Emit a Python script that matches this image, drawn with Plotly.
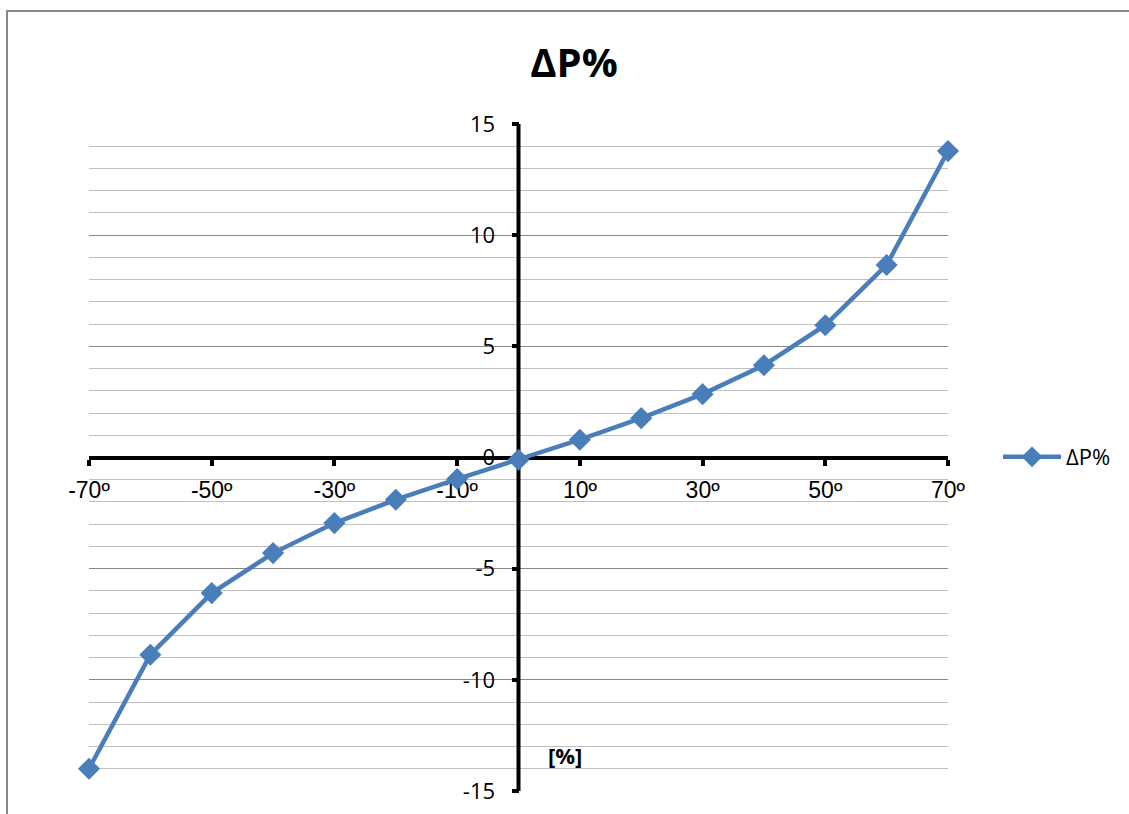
import plotly.graph_objects as go

angles = [-70, -60, -50, -40, -30, -20, -10, 0, 10, 20, 30, 40, 50, 60, 70]
dp_values = [-14.0, -8.87, -6.1, -4.3, -2.95, -1.9, -0.97, -0.1, 0.8, 1.77, 2.85, 4.15, 5.95, 8.66, 13.78]
x_tickvals = [-70, -50, -30, -10, 10, 30, 50, 70]
x_ticktext = ["-70º", "-50º", "-30º", "-10º", "10º", "30º", "50º", "70º"]
y_tickvals = [-15, -10, -5, 0, 5, 10, 15]
y_ticktext = ["-15", "-10", "-5", "0", "5", "10", "15"]
series_name = "ΔP%"
title_text = "ΔP%"
unit_label = "[%]"

W, H = 1129, 814
L, R, T, B = 89, 948, 124, 791

blue = "#4A7EBB"
font_family = "'Open Sans', Lato, sans-serif"

fig = go.Figure()
fig.add_trace(go.Scatter(
    x=angles, y=dp_values, mode="lines+markers", name=series_name,
    line=dict(color=blue, width=4.5),
    marker=dict(symbol="diamond", size=17, color=blue),
    cliponaxis=False, showlegend=True,
))

pw = R - L
ph = B - T

def px_to_paper_x(px):
    return (px - L) / pw

def px_to_paper_y(py):
    return (B - py) / ph

fig.update_layout(
    width=W, height=H,
    margin=dict(l=L, r=W - R, t=T, b=H - B, pad=0, autoexpand=False),
    paper_bgcolor="white", plot_bgcolor="white",
    font=dict(family=font_family, size=21, color="black"),
    title=dict(text="<b>" + title_text + "</b>", x=px_to_paper_x(574), xref="paper",
               xanchor="center", y=1 - 63 / H, yanchor="middle",
               font=dict(size=40, family=font_family, color="black")),
    xaxis=dict(
        range=[-70, 70], anchor="free", position=0.5, automargin=False,
        tickmode="array", tickvals=x_tickvals, ticktext=x_ticktext,
        ticks="outside", ticklen=6, tickwidth=4, tickcolor="black",
        showline=True, linecolor="black", linewidth=4,
        showgrid=False, zeroline=False, layer="below traces",
        tickfont=dict(size=23, family="'Liberation Sans', Arial, sans-serif"),
        ticklabelstandoff=5,
    ),
    yaxis=dict(
        range=[-15, 15], anchor="free", position=0.5, automargin=False,
        tickmode="array", tickvals=y_tickvals, ticktext=y_ticktext,
        ticks="outside", ticklen=7, tickwidth=4, tickcolor="black",
        showline=False,
        showgrid=True, gridcolor="#878787", gridwidth=1.3,
        minor=dict(dtick=1, showgrid=True, gridcolor="#c0c0c0", gridwidth=1.3, ticks=""),
        zeroline=False, layer="below traces",
        tickfont=dict(size=22), ticklabelstandoff=12,
    ),
    legend=dict(x=px_to_paper_x(998), xanchor="left", y=px_to_paper_y(457), yanchor="middle",
                font=dict(size=22), itemwidth=58, bgcolor="rgba(0,0,0,0)"),
)

# vertical axis line crossing at x = 0
fig.add_shape(type="line", xref="x", yref="y", x0=0, x1=0, y0=-15, y1=15,
              line=dict(color="black", width=4), layer="between")

fig.add_annotation(text="<b>" + unit_label + "</b>", x=px_to_paper_x(565), y=px_to_paper_y(755),
                   xref="paper", yref="paper", xanchor="center", yanchor="middle", showarrow=False,
                   font=dict(size=22, family=font_family, color="black"))

fig.add_shape(type="rect", xref="paper", yref="paper",
              x0=px_to_paper_x(7), x1=px_to_paper_x(1140),
              y0=px_to_paper_y(830), y1=px_to_paper_y(11),
              line=dict(color="#878787", width=2), layer="below")

fig.write_html("out.html")
